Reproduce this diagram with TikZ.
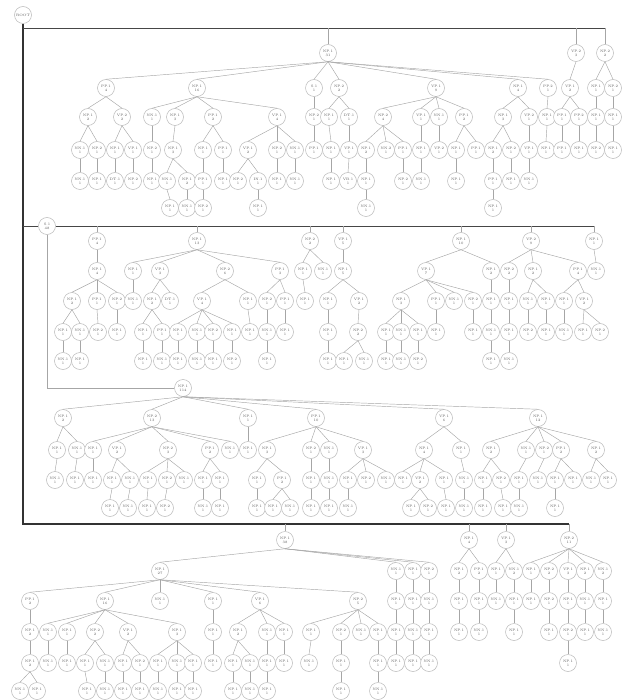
\documentclass[tikz,border=0pt]{standalone}
\begin{document}
\begin{tikzpicture}
[
	x=1pt,y=-1pt,
	tn/.style={circle,draw=gray!55,fill=white,line width=0.5pt,inner sep=0pt,minimum size=17pt,align=center,font=\fontsize{3.5}{3.9}\selectfont,text=gray!70!black},
	br/.style={draw=gray!70,line width=0.45pt},
	spine/.style={draw=gray!40!black,line width=2pt},
	bus/.style={draw=gray!55!black,line width=0.9pt}
]

	\useasboundingbox (0,0) rectangle (622,700);
	\clip (0,0) rectangle (622,700);

	% root, trunk and the nodes hanging from it
	\node[tn] (root) at (23,15) {ROOT};
	\coordinate (j1) at (23,28);
	\coordinate (j2) at (23,226);
	\coordinate (j3) at (23,524);

	\foreach \n/\x/\t/\c in {a1/328/NP.1/31, a2/576/VP.2/3, a3/605/NP.2/2} {
		\node[tn] (\n) at (\x,53) {\t\\\c};
	}
	\node[tn] (S2) at (47,226) {S.1\\48};
	\foreach \n/\x/\t/\c in {b1/97/PP.1/4, b2/197/NP.1/13, b3/310/NP.2/2, b4/343/VP.1/5, b5/461/NP.1/10, b6/531/VP.2/9, b7/594/NP.1/1} {
		\node[tn] (\n) at (\x,241) {\t\\\c};
	}
	\node[tn] (S3) at (183,388) {NP.1\\114};
	\foreach \n/\x/\t/\c in {d1/285/NP.1/38, d2/469/NP.1/4, d3/506/VP.1/3, d4/569/NP.2/11} {
		\node[tn] (\n) at (\x,540) {\t\\\c};
	}

	% buses
	\draw[spine] (root) |- (d4 |- j3);
	\draw[bus] (j1) -- (a3 |- j1);
	\draw[bus] (j2) -- (S2);
	\draw[bus] (S2) -- (b7 |- S2);
	\foreach \c in {a1,a2,a3} {
		\draw[br] (\c |- j1) -- (\c);
	}
	\foreach \c in {b1,b2,b3,b4,b5,b6,b7} {
		\draw[br] (\c |- S2) -- (\c);
	}
	\foreach \c in {d1,d2,d3,d4} {
		\draw[br] (\c |- j3) -- (\c);
	}
	\draw[br] (S2) |- (S3);

	% first block
	\foreach \n/\x/\p/\t/\c in {a11/106/a1/PP.1/4, a12/197/a1/NP.1/16, a13/314/a1/S.1/1, a14/339/a1/NP.2/2, a15/436/a1/VP.1/9, a16/518/a1/NP.1/4, a17/548/a1/PP.2/1, a21/570/a2/VP.1/2, a31/596/a3/NP.1/1, a32/613/a3/NP.2/1} {
		\node[tn] (\n) at (\x,88) {\t\\\c};
		\draw[br] (\p.south) -- (\n.north);
	}
	\foreach \n/\x/\p/\t/\c in {a111/88/a11/NP.1/2, a112/122/a11/VP.2/2, a121/152/a12/NN.1/1, a122/175/a12/NP.1/3, a123/213/a12/PP.1/2, a124/277/a12/VP.1/4, a131/314/a13/NP.2/1, a141/329/a14/NP.1/1, a142/349/a14/DT.1/1, a151/383/a15/NP.2/4, a152/421/a15/VP.1/1, a153/439/a15/NN.1/1, a154/464/a15/PP.1/2, a161/503/a16/NP.1/3, a162/529/a16/VP.2/1, a171/547/a17/NP.1/1, a211/562/a21/PP.1/1, a212/579/a21/PP.2/1, a311/596/a31/NP.1/1, a321/613/a32/NP.1/1} {
		\node[tn] (\n) at (\x,117) {\t\\\c};
		\draw[br] (\p.south) -- (\n.north);
	}
	\foreach \n/\x/\p/\t/\c in {a1111/80/a111/NN.1/1, a1112/97/a111/NP.2/1, a1121/115/a112/NP.1/1, a1122/133/a112/VP.1/1, a1211/152/a121/NP.2/1, a1221/173/a122/NP.1/3, a1231/203/a123/NP.1/1, a1232/223/a123/PP.1/1, a1241/248/a124/VP.1/2, a1242/277/a124/NP.2/1, a1243/295/a124/NN.1/1, a1311/314/a131/PP.1/1, a1411/331/a141/NP.1/1, a1421/349/a142/VP.1/1, a1511/366/a151/NP.1/2, a1512/386/a151/NN.2/1, a1513/403/a151/PP.1/1, a1521/421/a152/NP.1/1, a1531/439/a153/VP.2/1, a1541/456/a154/NP.1/1, a1542/476/a154/PP.1/1, a1611/493/a161/NP.1/2, a1612/511/a161/NP.2/1, a1621/529/a162/VP.1/1, a1711/546/a171/NP.1/1, a2111/562/a211/PP.1/1, a2121/579/a212/NP.1/1, a3111/596/a311/NP.2/1, a3211/613/a321/NP.1/1} {
		\node[tn] (\n) at (\x,150) {\t\\\c};
		\draw[br] (\p.south) -- (\n.north);
	}
	\foreach \n/\x/\p/\t/\c in {a11111/80/a1111/NN.1/1, a11121/97/a1112/NP.1/1, a11211/115/a1121/DT.1/1, a11221/133/a1122/NP.2/1, a12111/152/a1211/NP.1/1, a12211/167/a1221/NN.1/1, a12212/187/a1221/NP.1/2, a12311/203/a1231/PP.1/1, a12321/223/a1232/NP.1/1, a12411/238/a1241/NP.2/1, a12412/258/a1241/IN.1/1, a12421/277/a1242/NP.1/1, a12431/295/a1243/NN.1/1, a14111/331/a1411/NP.1/1, a14211/348/a1421/VB.1/1, a15111/366/a1511/NP.1/1, a15131/403/a1513/NP.2/1, a15211/421/a1521/NN.1/1, a15411/456/a1541/NP.1/1, a16111/493/a1611/PP.1/1, a16121/511/a1612/NP.1/1, a16211/529/a1621/NN.1/1} {
		\node[tn] (\n) at (\x,181) {\t\\\c};
		\draw[br] (\p.south) -- (\n.north);
	}
	\foreach \n/\x/\p/\t/\c in {a122111/170/a12211/NP.1/1, a122121/187/a12212/NN.1/1, a123111/203/a12311/NP.2/1, a124121/258/a12412/NP.1/1, a151111/366/a15111/NN.1/1, a161111/493/a16111/NP.1/1} {
		\node[tn] (\n) at (\x,208) {\t\\\c};
		\draw[br] (\p.south) -- (\n.north);
	}

	% second block
	\foreach \n/\x/\p/\t/\c in {b11/97/b1/NP.1/4, b21/133/b2/NP.1/1, b22/160/b2/VP.1/3, b23/225/b2/NP.2/6, b24/280/b2/PP.1/3, b31/303/b3/NP.1/1, b32/323/b3/NN.1/1, b41/343/b4/NP.1/5, b51/426/b5/VP.1/7, b52/491/b5/NP.1/2, b61/509/b6/NP.2/2, b62/533/b6/NP.1/2, b63/578/b6/PP.1/4, b71/596/b7/NN.1/1} {
		\node[tn] (\n) at (\x,271) {\t\\\c};
		\draw[br] (\p.south) -- (\n.north);
	}
	\foreach \n/\x/\p/\t/\c in {b111/72/b11/NP.1/2, b112/97/b11/PP.1/1, b113/117/b11/NP.2/1, b211/133/b21/NN.1/1, b221/152/b22/NP.1/2, b222/170/b22/DT.1/1, b231/202/b23/VP.1/4, b232/248/b23/NP.1/1, b241/267/b24/NP.2/1, b242/285/b24/PP.1/1, b311/305/b31/NP.1/1, b411/328/b41/NP.1/1, b412/359/b41/VP.1/2, b511/401/b51/NP.1/3, b512/436/b51/PP.1/1, b513/454/b51/NN.1/1, b514/473/b51/NP.2/1, b521/491/b52/NP.1/1, b611/509/b61/NP.1/1, b621/528/b62/NN.1/1, b622/546/b62/NP.1/1, b631/564/b63/NP.1/1, b632/584/b63/VP.1/2} {
		\node[tn] (\n) at (\x,301) {\t\\\c};
		\draw[br] (\p.south) -- (\n.north);
	}
	\foreach \n/\x/\p/\t/\c in {b1111/63/b111/NP.1/1, b1112/80/b111/NN.1/1, b1121/98/b112/NP.2/1, b1131/117/b113/NP.1/1, b2211/143/b221/NP.1/1, b2212/162/b221/PP.1/1, b2311/178/b231/NP.1/1, b2312/197/b231/NN.1/1, b2313/213/b231/NP.2/1, b2314/232/b231/NP.1/1, b2321/250/b232/NP.1/1, b2411/267/b241/NN.1/1, b2421/285/b242/NP.1/1, b4111/328/b411/NP.1/1, b4121/358/b412/NP.2/2, b5111/386/b511/NP.1/1, b5112/401/b511/NN.1/1, b5113/418/b511/NP.1/1, b5121/436/b512/NP.1/1, b5141/473/b514/NP.1/1, b5211/491/b521/NN.1/1, b6111/509/b611/NP.1/1, b6211/528/b621/NP.2/1, b6221/546/b622/NP.1/1, b6311/564/b631/NN.1/1, b6321/583/b632/NP.1/1, b6322/600/b632/NP.2/1} {
		\node[tn] (\n) at (\x,332) {\t\\\c};
		\draw[br] (\p.south) -- (\n.north);
	}
	\foreach \n/\x/\p/\t/\c in {b11111/63/b1111/NN.1/1, b11121/80/b1112/NP.1/1, b22111/143/b2211/NP.1/1, b22121/162/b2212/NN.1/1, b23111/178/b2311/NP.1/1, b23121/197/b2312/NN.1/1, b23131/213/b2313/NP.1/1, b23141/232/b2314/NP.2/1, b24111/267/b2411/NP.1/1, b41111/328/b4111/NP.1/1, b41211/344/b4121/NP.1/1, b41212/364/b4121/NN.1/1, b51111/386/b5111/NP.1/1, b51121/401/b5112/NN.1/1, b51131/418/b5113/NP.2/1, b52111/491/b5211/NP.1/1, b61111/509/b6111/NN.1/1} {
		\node[tn] (\n) at (\x,361) {\t\\\c};
		\draw[br] (\p.south) -- (\n.north);
	}

	% third block
	\foreach \n/\x/\p/\t/\c in {c1/63/S3/NP.1/2, c2/152/S3/NP.2/13, c3/248/S3/NP.1/1, c4/316/S3/PP.1/10, c5/444/S3/VP.1/6, c6/538/S3/NP.1/12} {
		\node[tn] (\n) at (\x,418) {\t\\\c};
		\draw[br] (\p.south) -- (\n.north);
	}
	\foreach \n/\x/\p/\t/\c in {c11/57/c1/NP.1/1, c12/77/c1/NN.1/1, c21/93/c2/NP.1/1, c22/117/c2/VP.1/2, c23/168/c2/NP.2/3, c24/210/c2/PP.1/2, c25/230/c2/NN.1/1, c31/248/c3/NP.1/1, c41/267/c4/NP.1/3, c42/311/c4/NP.2/1, c43/329/c4/NN.1/1, c44/363/c4/VP.1/3, c51/424/c5/NP.1/4, c52/461/c5/NP.1/1, c61/491/c6/NP.1/2, c62/526/c6/NN.1/1, c63/544/c6/NP.2/1, c64/561/c6/PP.1/2, c65/596/c6/NP.1/2} {
		\node[tn] (\n) at (\x,450) {\t\\\c};
		\draw[br] (\p.south) -- (\n.north);
	}
	\foreach \n/\x/\p/\t/\c in {c111/55/c11/NN.1/1, c121/75/c12/NP.1/1, c211/93/c21/NP.1/1, c221/112/c22/NP.1/1, c222/130/c22/NN.1/1, c231/148/c23/NP.1/1, c232/167/c23/NP.2/1, c233/184/c23/NN.1/1, c241/203/c24/NP.1/1, c242/220/c24/NP.1/1, c411/257/c41/NP.1/1, c412/282/c41/PP.1/2, c421/311/c42/NP.1/1, c431/329/c43/NN.1/1, c441/348/c44/NP.1/1, c442/366/c44/NP.2/1, c443/386/c44/NN.1/1, c511/403/c51/NP.1/1, c512/420/c51/VP.1/2, c513/444/c51/NP.1/1, c521/464/c52/NN.1/1, c611/483/c61/NP.1/1, c612/501/c61/NP.2/1, c621/519/c62/NP.1/1, c631/538/c63/NN.1/1, c641/555/c64/NP.1/1, c642/573/c64/NP.1/1, c651/591/c65/NN.1/1, c652/608/c65/NP.1/1} {
		\node[tn] (\n) at (\x,480) {\t\\\c};
		\draw[br] (\p.south) -- (\n.north);
	}
	\foreach \n/\x/\p/\t/\c in {c2211/110/c221/NP.1/1, c2221/128/c222/NN.1/1, c2311/147/c231/NP.1/1, c2321/165/c232/NP.2/1, c2411/203/c241/NN.1/1, c2421/220/c242/NP.1/1, c4111/257/c411/NP.1/1, c4121/273/c412/NP.1/1, c4122/290/c412/NN.1/1, c4211/311/c421/NP.1/1, c4311/329/c431/NP.1/1, c4411/348/c441/NN.1/1, c5121/411/c512/NP.1/1, c5122/428/c512/NP.2/1, c5131/446/c513/NP.1/1, c5211/464/c521/NN.1/1, c6111/483/c611/NP.1/1, c6121/503/c612/NP.1/1, c6211/519/c621/NN.1/1, c6411/555/c641/NP.1/1} {
		\node[tn] (\n) at (\x,508) {\t\\\c};
		\draw[br] (\p.south) -- (\n.north);
	}

	% fourth block
	\foreach \n/\x/\p/\t/\c in {d11/160/d1/NP.1/27, d12/396/d1/NN.1/1, d13/413/d1/NP.1/1, d14/429/d1/NP.2/1, d21/459/d2/NP.1/2, d22/479/d2/PP.1/2, d31/496/d3/NP.1/1, d32/514/d3/NN.1/2, d41/531/d4/NP.1/1, d42/549/d4/NP.2/2, d43/568/d4/VP.1/3, d44/585/d4/NP.1/2, d45/603/d4/NN.1/2} {
		\node[tn] (\n) at (\x,571) {\t\\\c};
		\draw[br] (\p.south) -- (\n.north);
	}
	\foreach \n/\x/\p/\t/\c in {d111/30/d11/PP.1/2, d112/105/d11/NP.1/16, d113/160/d11/NN.1/1, d114/213/d11/NP.1/1, d115/260/d11/VP.1/6, d116/358/d11/NP.2/5, d121/396/d12/NP.1/1, d131/413/d13/NP.1/1, d141/429/d14/NN.1/1, d211/459/d21/NP.1/1, d221/479/d22/NP.1/1, d311/496/d31/NN.1/1, d321/514/d32/NP.1/1, d411/531/d41/NP.1/1, d421/549/d42/NP.2/1, d431/568/d43/NP.1/1, d441/585/d44/NN.1/1, d451/603/d45/NP.1/1} {
		\node[tn] (\n) at (\x,601) {\t\\\c};
		\draw[br] (\p.south) -- (\n.north);
	}
	\foreach \n/\x/\p/\t/\c in {d1111/30/d111/NP.1/2, d1121/48/d112/NN.1/1, d1122/67/d112/NP.1/1, d1123/95/d112/NP.2/2, d1124/128/d112/VP.1/2, d1125/177/d112/NP.1/3, d1141/213/d114/NP.1/1, d1151/238/d115/NP.1/2, d1152/267/d115/NN.1/1, d1153/284/d115/NP.1/1, d1161/311/d116/NP.1/1, d1162/341/d116/NP.2/1, d1163/361/d116/NN.1/1, d1164/378/d116/NP.1/1, d1211/396/d121/NP.1/1, d1311/413/d131/NN.1/1, d1411/429/d141/NP.1/1, d2111/459/d211/NP.1/1, d2211/479/d221/NN.1/1, d3211/514/d321/NP.1/1, d4211/549/d421/NP.1/1, d4311/568/d431/NP.2/1, d4411/585/d441/NP.1/1, d4511/603/d451/NN.1/1} {
		\node[tn] (\n) at (\x,632) {\t\\\c};
		\draw[br] (\p.south) -- (\n.north);
	}
	\foreach \n/\x/\p/\t/\c in {d11111/30/d1111/NP.1/2, d11211/48/d1121/NN.1/1, d11221/67/d1122/NP.1/1, d11231/85/d1123/NP.1/1, d11232/105/d1123/NN.1/1, d11241/123/d1124/NP.1/1, d11242/140/d1124/NP.2/1, d11251/158/d1125/NP.1/1, d11252/177/d1125/NN.1/1, d11253/193/d1125/NP.1/1, d11411/213/d1141/NP.1/1, d11511/233/d1151/NP.1/1, d11512/250/d1151/NN.1/1, d11521/267/d1152/NP.1/1, d11531/284/d1153/NP.1/1, d11611/309/d1161/NN.1/1, d11621/341/d1162/NP.1/1, d11641/378/d1164/NP.1/1, d12111/396/d1211/NP.1/1, d13111/413/d1311/NP.1/1, d14111/429/d1411/NN.1/1, d43111/568/d4311/NP.1/1} {
		\node[tn] (\n) at (\x,663) {\t\\\c};
		\draw[br] (\p.south) -- (\n.north);
	}
	\foreach \n/\x/\p/\t/\c in {d111111/20/d11111/NN.1/1, d111112/37/d11111/NP.1/1, d112311/87/d11231/NP.1/1, d112321/105/d11232/NN.1/1, d112411/123/d11241/NP.1/1, d112421/140/d11242/NP.1/1, d112511/158/d11251/NN.1/1, d112521/177/d11252/NP.1/1, d112531/193/d11253/NP.1/1, d115111/233/d11511/NP.1/1, d115121/250/d11512/NN.1/1, d115211/267/d11521/NP.1/1, d116211/341/d11621/NP.1/1, d116411/378/d11641/NN.1/1} {
		\node[tn] (\n) at (\x,691) {\t\\\c};
		\draw[br] (\p.south) -- (\n.north);
	}

\end{tikzpicture}
\end{document}
